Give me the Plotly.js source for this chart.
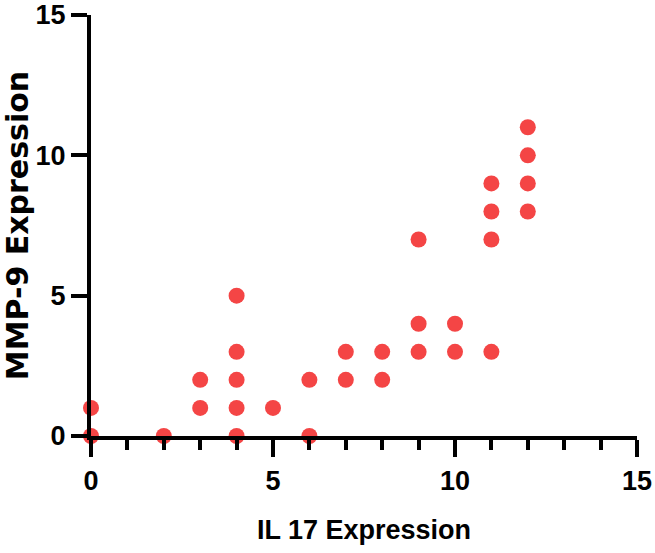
<!DOCTYPE html>
<html>
<head>
<meta charset="utf-8">
<script src="https://cdn.plot.ly/plotly-3.0.1.min.js"></script>
<style>
  html, body { margin: 0; padding: 0; background: #fff; }
  #plot { width: 655px; height: 553px; }
</style>
</head>
<body>
<div id="plot"></div>
<script>
// IL 17 vs MMP-9 expression, one point per sample
const il17 = [0, 0, 2, 3, 3, 4, 4, 4, 4, 4, 5, 6, 6, 7, 7, 8, 8, 9, 9, 9, 10, 10, 11, 11, 11, 11, 12, 12, 12, 12];
const mmp9 = [0, 1, 0, 1, 2, 0, 1, 2, 3, 5, 1, 0, 2, 2, 3, 2, 3, 3, 4, 7, 3, 4, 3, 7, 8, 9, 8, 9, 10, 11];
const tickVals = [0, 5, 10, 15];
const xLabel = 'IL 17 Expression';
const yLabel = 'MMP-9 Expression';

const sans = 'Liberation Sans, Arial, sans-serif';
// y title in the original runs long, a wider face gets closer
const wide = 'DejaVu Sans, Liberation Sans, sans-serif';

const trace = {
  x: il17,
  y: mmp9,
  mode: 'markers',
  type: 'scatter',
  cliponaxis: false,
  marker: { color: '#F44545', size: 16, line: { width: 0 } },
  hoverinfo: 'x+y'
};

const layout = {
  width: 655,
  height: 553,
  margin: { l: 91, r: 18, t: 15, b: 117 },
  paper_bgcolor: '#fff',
  plot_bgcolor: '#fff',
  showlegend: false,
  font: { family: sans, color: '#000' },
  xaxis: {
    range: [0, 15],
    tickvals: tickVals,
    ticktext: tickVals.map(String),
    showgrid: false,
    zeroline: false,
    showline: true,
    linecolor: '#000',
    linewidth: 4,
    ticks: 'outside',
    ticklen: 17,
    tickwidth: 4,
    tickcolor: '#000',
    ticklabelstandoff: 1,
    minor: { dtick: 1, ticks: 'outside', ticklen: 10, tickwidth: 4, tickcolor: '#000', showgrid: false },
    tickfont: { family: sans, size: 27, weight: 'bold' },
    title: { text: xLabel, font: { family: sans, size: 27, weight: 'bold' }, standoff: 26 }
  },
  yaxis: {
    range: [0, 15],
    tickvals: tickVals,
    ticktext: tickVals.map(String),
    showgrid: false,
    zeroline: false,
    showline: true,
    linecolor: '#000',
    linewidth: 4,
    ticks: 'outside',
    ticklen: 16,
    tickwidth: 4,
    tickcolor: '#000',
    tickfont: { family: sans, size: 27, weight: 'bold' },
    title: { text: yLabel, font: { family: wide, size: 30, weight: 'bold' }, standoff: 8 }
  }
};

Plotly.newPlot('plot', [trace], layout, { displayModeBar: false, staticPlot: true });
</script>
</body>
</html>
